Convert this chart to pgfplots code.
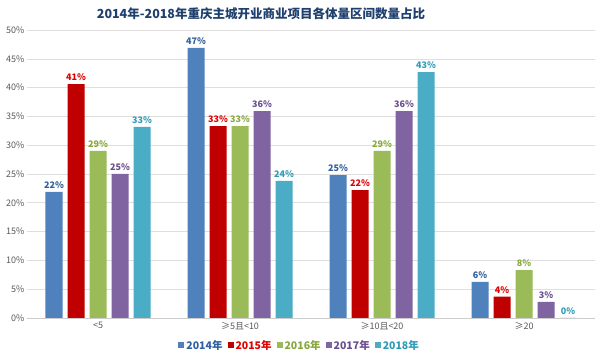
\documentclass[border=0pt]{standalone}
\usepackage{pgfplots}
\pgfplotsset{compat=1.18}
\usepackage{fontspec}
\setmainfont{Noto Sans CJK SC}
\definecolor{c14}{HTML}{4F81BD}
\definecolor{c15}{HTML}{C00000}
\definecolor{c16}{HTML}{9BBB59}
\definecolor{c17}{HTML}{8064A2}
\definecolor{c18}{HTML}{4BACC6}
\definecolor{t14}{HTML}{2F5F9E}
\definecolor{t15}{HTML}{E00000}
\definecolor{t16}{HTML}{86A83C}
\definecolor{t17}{HTML}{6A4E8E}
\definecolor{t18}{HTML}{2E9CB8}
\definecolor{titlec}{HTML}{1F3F6E}
\definecolor{tickc}{HTML}{595959}
\begin{document}
\begin{tikzpicture}[x=1pt,y=1pt]
\useasboundingbox (0,0) rectangle (600,361);
\fill[white] (0,0) rectangle (600,361);
\node[font=\fontsize{12.5}{14}\selectfont\bfseries, text=titlec] at (261,347) {2014年-2018年重庆主城开业商业项目各体量区间数量占比};
\begin{axis}[
  at={(27pt,43pt)}, anchor=south west,
  scale only axis, width=568pt, height=288pt,
  xmin=-0.5, xmax=3.5, ymin=0, ymax=50,
  ybar=5pt, bar width=17pt,
  xtick={0,1,2,3},
  xticklabels={<5, ≥5且<10, ≥10且<20, ≥20},
  ytick={0,5,...,50},
  yticklabel={\pgfmathprintnumber{\tick}\%},
  /pgf/number format/assume math mode=true,
  tick label style={font=\fontsize{9}{10}\selectfont, text=tickc},
  yticklabel style={xshift=1pt},
  xticklabel style={yshift=-1pt},
  major tick length=0pt,
  ymajorgrids, grid style={gray!25, line width=0.6pt},
  axis x line*=bottom, axis y line*=left,
  x axis line style={gray!40, line width=0.8pt, -},
  y axis line style={draw=none},
  nodes near coords={\pgfmathprintnumber[fixed,precision=0]{\pgfplotspointmeta}\%},
  nodes near coords style={font=\fontsize{9}{10}\selectfont\bfseries, yshift=0pt},
  legend style={at={(axis description cs:0.48,-0.097)}, anchor=center, draw=none, fill=none,
    legend columns=5, font=\fontsize{10.5}{12}\selectfont\bfseries,
    /tikz/every even column/.append style={column sep=3pt}},
  legend cell align=left,
  legend image code/.code={\fill[#1] (0pt,-2.5pt) rectangle (6pt,3.5pt);},
  clip=false,
]
\addplot[fill=c14, draw=none, nodes near coords style={text=t14}] coordinates {(0,21.9) (1,46.9) (2,24.8) (3,6.25)};
\addplot[fill=c15, draw=none, nodes near coords style={text=t15}] coordinates {(0,40.6) (1,33.3) (2,22.2) (3,3.7)};
\addplot[fill=c16, draw=none, nodes near coords style={text=t16}] coordinates {(0,29.0) (1,33.3) (2,29.0) (3,8.3)};
\addplot[fill=c17, draw=none, nodes near coords style={text=t17}] coordinates {(0,25.0) (1,35.9) (2,35.9) (3,2.8)};
\addplot[fill=c18, draw=none, nodes near coords style={text=t18}] coordinates {(0,33.2) (1,23.8) (2,42.7) (3,0)};
\legend{\textcolor{t14}{2014年}, \textcolor{t15}{2015年}, \textcolor{t16}{2016年}, \textcolor{t17}{2017年}, \textcolor{t18}{2018年}}
\end{axis}
\end{tikzpicture}
\end{document}
